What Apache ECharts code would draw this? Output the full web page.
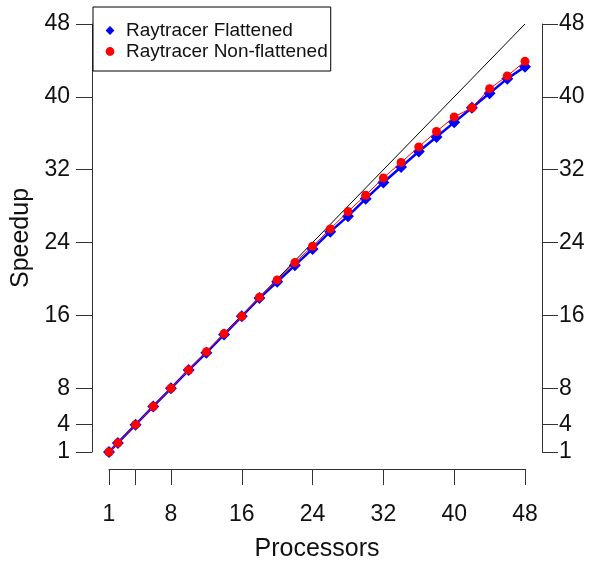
<!DOCTYPE html>
<html>
<head>
<meta charset="utf-8">
<script src="https://cdn.jsdelivr.net/npm/echarts@6/dist/echarts.min.js"></script>
<style>html,body{margin:0;padding:0;background:#fff}#c{width:591px;height:561px}</style>
</head>
<body>
<div id="c"></div>
<script>
const processors = [1,2,4,6,8,10,12,14,16,18,20,22,24,26,28,30,32,34,36,38,40,42,44,46,48];
const flattened = [1.0,2.0,4.0,6.0,8.0,10.0,11.9,13.9,15.9,17.9,19.7,21.5,23.3,25.2,26.9,28.8,30.6,32.3,34.0,35.6,37.2,38.8,40.4,42.0,43.3];
const nonFlattened = [1.0,2.0,4.0,6.0,8.0,10.0,12.0,14.0,15.9,18.0,19.9,21.8,23.6,25.5,27.4,29.2,31.1,32.8,34.5,36.2,37.8,38.8,40.9,42.3,43.9];
const idealX = [0,48];
const idealY = [0,48];
const xTicks = [1,4,8,16,24,32,40,48];
const xLabels = [1,8,16,24,32,40,48];
const yTicks = [1,4,8,16,24,32,40,48];

const FONT = '"Liberation Sans", Arial, sans-serif';
const axisCol = '#333';

function yAxisDef(pos, margin){
  return {
    type:'value', position:pos, min:1, max:48, offset:17,
    axisLine:{show:true, lineStyle:{color:axisCol, width:1}},
    axisTick:{show:true, length:16, customValues:yTicks, lineStyle:{color:axisCol}},
    axisLabel:{customValues:yTicks, fontSize:23, fontFamily:FONT, color:'#111', margin:margin},
    splitLine:{show:false}
  };
}

const chart = echarts.init(document.getElementById('c'), null, {renderer:'canvas'});
chart.setOption({
  animation:false,
  backgroundColor:'#fff',
  grid:{left:109, right:66, top:24, bottom:109, containLabel:false, outerBoundsMode:'none'},
  xAxis:{
    type:'value', min:1, max:48, offset:17,
    name:'Processors', nameLocation:'middle', nameGap:68,
    nameTextStyle:{fontSize:25, fontFamily:FONT, color:'#111'},
    axisLine:{show:true, lineStyle:{color:axisCol, width:1}},
    axisTick:{show:true, length:16, customValues:xTicks, lineStyle:{color:axisCol}},
    axisLabel:{customValues:xLabels, fontSize:23, fontFamily:FONT, color:'#111', margin:34},
    splitLine:{show:false}
  },
  yAxis:[
    Object.assign(yAxisDef('left', 22), {name:'Speedup', nameLocation:'middle', nameGap:58, nameRotate:90,
      nameTextStyle:{fontSize:25, fontFamily:FONT, color:'#111'}}),
    yAxisDef('right', 17)
  ],
  legend:{
    orient:'vertical', left:93, top:7,
    backgroundColor:'#fff', borderColor:'#000', borderWidth:1,
    padding:[14,3,10,6],
    itemWidth:22, itemHeight:11, itemGap:2, symbolKeepAspect:true,
    lineStyle:{width:0, opacity:0},
    textStyle:{fontSize:19, fontFamily:FONT, color:'#111'},
    data:[{name:'Raytracer Flattened'},{name:'Raytracer Non-flattened'}]
  },
  series:[
    {type:'line', name:'Ideal', data:idealX.map((x,i)=>[x,idealY[i]]), showSymbol:false, symbol:'none',
     lineStyle:{color:'#000', width:1}, clip:false, silent:true, z:1},
    {type:'line', name:'Raytracer Flattened', data:processors.map((x,i)=>[x,flattened[i]]),
     symbol:'diamond', symbolSize:12, showAllSymbol:true, clip:false,
     lineStyle:{color:'#0000ff', width:2.5}, itemStyle:{color:'#0000ff'}, z:2},
    {type:'line', name:'Raytracer Non-flattened', data:processors.map((x,i)=>[x,nonFlattened[i]]),
     symbol:'circle', symbolSize:9, showAllSymbol:true, clip:false,
     lineStyle:{color:'#ff0000', width:1}, itemStyle:{color:'#ff0000'}, z:3}
  ]
});
</script>
</body>
</html>
